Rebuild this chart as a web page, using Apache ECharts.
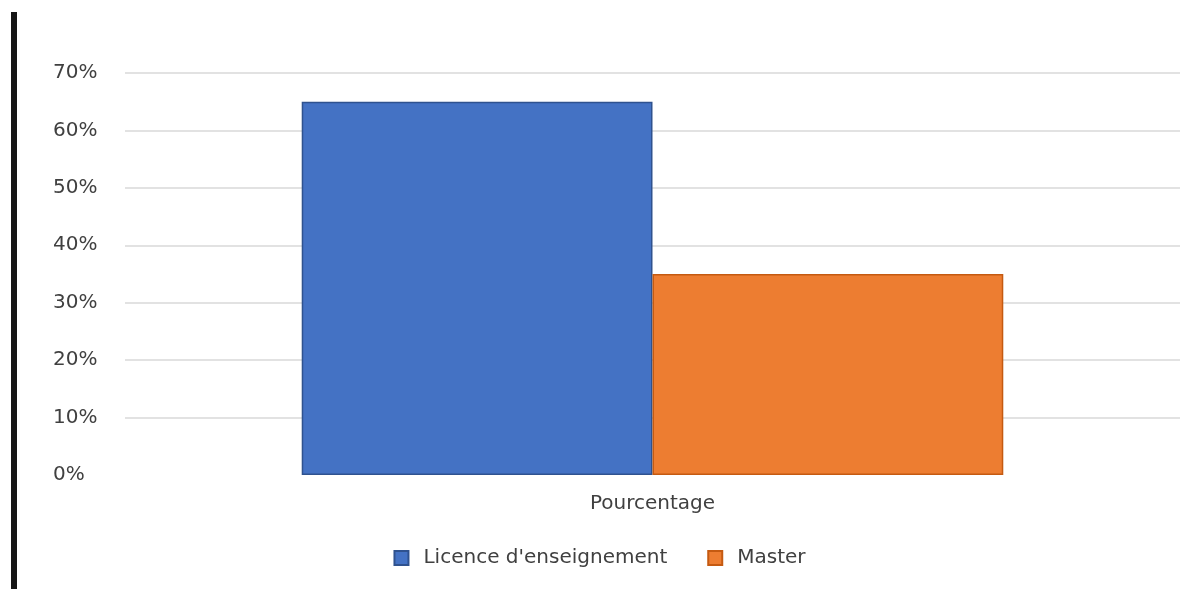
<!DOCTYPE html>
<html>
<head>
<meta charset="utf-8">
<script src="https://cdn.jsdelivr.net/npm/echarts@6/dist/echarts.min.js"></script>
<style>html,body{margin:0;padding:0;background:#fff;}#c{width:1199px;height:589px;}</style>
</head>
<body>
<div id="c"></div>
<script>
const categories = ['Pourcentage'];
const seriesNames = ["Licence d'enseignement", 'Master'];
const licenceValues = [65];
const masterValues = [35];

const chart = echarts.init(document.getElementById('c'));
chart.setOption({
  animation: false,
  backgroundColor: '#fff',
  textStyle: { fontFamily: 'DejaVu Sans' },
  graphic: [
    { type: 'rect', shape: { x: 11, y: 12, width: 6, height: 577 }, style: { fill: '#161616' } }
  ],
  grid: { left: 125, right: 19, top: 73, bottom: 114, containLabel: false },
  legend: {
    data: seriesNames,
    bottom: 16,
    left: 'center',
    itemWidth: 14,
    itemHeight: 14,
    itemGap: 40,
    icon: 'rect',
    textStyle: { fontSize: 20, color: '#404040', fontFamily: 'DejaVu Sans', padding: [0, 0, 0, 10] }
  },
  xAxis: {
    type: 'category',
    data: categories,
    axisLine: { show: false },
    axisTick: { show: false },
    axisLabel: { fontSize: 20, color: '#404040', margin: 19 }
  },
  yAxis: {
    type: 'value',
    min: 0,
    max: 70,
    interval: 10,
    axisLine: { show: false },
    axisTick: { show: false },
    axisLabel: { formatter: '{value}%', fontSize: 20, color: '#404040', margin: 72, align: 'left' },
    splitLine: { showMinLine: false, lineStyle: { color: '#d9d9d9', width: 1.5 } }
  },
  series: [
    {
      name: seriesNames[0], type: 'bar', data: licenceValues,
      barGap: '0%', barCategoryGap: '33.5%',
      itemStyle: { color: '#4472C4', borderColor: '#2F528F', borderWidth: 1.5 }
    },
    {
      name: seriesNames[1], type: 'bar', data: masterValues,
      itemStyle: { color: '#ED7D31', borderColor: '#C55A11', borderWidth: 1.5 }
    }
  ]
});
</script>
</body>
</html>
